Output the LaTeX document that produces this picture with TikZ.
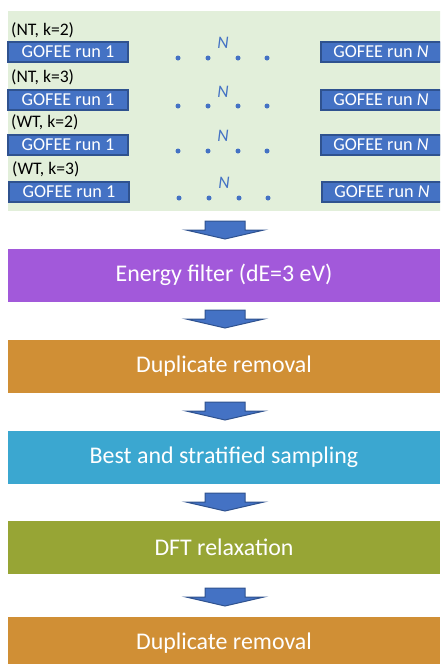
\documentclass[tikz,border=0pt]{standalone}
\usepackage{fontspec}
\setmainfont{Carlito}
\definecolor{panelgreen}{HTML}{E2EFDA}
\definecolor{runblue}{HTML}{4472C4}
\definecolor{runedge}{HTML}{2F528F}
\definecolor{stepviolet}{HTML}{A259DA}
\definecolor{steporange}{HTML}{D08F35}
\definecolor{stepcyan}{HTML}{3BA7D0}
\definecolor{stepolive}{HTML}{97A535}
\tikzset{
  runbox/.style={draw=runedge, line width=1.1pt, fill=runblue, text=white,
    minimum width=120pt, minimum height=20pt, inner sep=0pt,
    font=\fontsize{18.2}{20}\selectfont},
  caselabel/.style={anchor=west, inner sep=0pt, text=black,
    font=\fontsize{17.6}{19}\selectfont},
  nlabel/.style={inner sep=0pt, text=runblue, font=\fontsize{17.6}{19}\selectfont\itshape},
  rundot/.style={circle, fill=runblue, inner sep=0pt, minimum size=5pt},
  stepbox/.style={fill=#1, text=white, minimum width=432pt, minimum height=53pt,
    inner sep=0pt, font=\fontsize{23.9}{27}\selectfont},
  flowarrow/.pic={
    \draw[draw=runedge, fill=runblue, line width=1pt, line join=miter]
      (-20,0) -- (20,0) -- (20,9) -- (39,9) -- (0,18) -- (-39,9) -- (-20,9) -- cycle;
  }
}
\begin{document}
\begin{tikzpicture}[x=1pt, y=-1pt]
\useasboundingbox (0,0) rectangle (440,664);
\clip (0,0) rectangle (440,664);
% panel
\fill[panelgreen] (8,11) rectangle (445,211);
% rows
\node[caselabel] (l1) at (11,30) {(NT, k=2)};
\node[caselabel] (l2) at (11,77) {(NT, k=3)};
\node[caselabel] (l3) at (11,122) {(WT, k=2)};
\node[caselabel] (l4) at (12,169) {(WT, k=3)};
\node[runbox] (a1) at (68,52) {GOFEE run 1};
\node[runbox] (a2) at (68,100) {GOFEE run 1};
\node[runbox] (a3) at (68,145) {GOFEE run 1};
\node[runbox] (a4) at (69,192) {GOFEE run 1};
\node[runbox] (b1) at (381,52) {GOFEE run \textit{N}};
\node[runbox] (b2) at (381,100) {GOFEE run \textit{N}};
\node[runbox] (b3) at (381,145) {GOFEE run \textit{N}};
\node[runbox] (b4) at (382,192) {GOFEE run \textit{N}};
\foreach \r/\yd/\yn/\dx in {1/58/43/0, 2/106/92/0, 3/151/136/0, 4/198/183/1}{
  \node[nlabel] (n\r) at (223+\dx,\yn) {N};
  \foreach \k/\xx in {1/178, 2/208, 3/238, 4/267}{
    \node[rundot] (d\r\k) at (\xx+\dx,\yd) {};
  }
}
% steps
\node[stepbox=stepviolet] (s1) at (224,275) {Energy filter (dE=3 eV)};
\node[stepbox=steporange] (s2) at (224,366.5) {Duplicate removal};
\node[stepbox=stepcyan] (s3) at (224,457.5) {Best and stratified sampling};
\node[stepbox=stepolive] (s4) at (224,547.5) {DFT relaxation};
\node[stepbox=steporange] (s5) at (224,643.5) {Duplicate removal};
% arrows
\pic at (225,221) {flowarrow};
\pic at (225,310) {flowarrow};
\pic at (225,402) {flowarrow};
\pic at (225,493) {flowarrow};
\pic at (225,588) {flowarrow};
\end{tikzpicture}
\end{document}
